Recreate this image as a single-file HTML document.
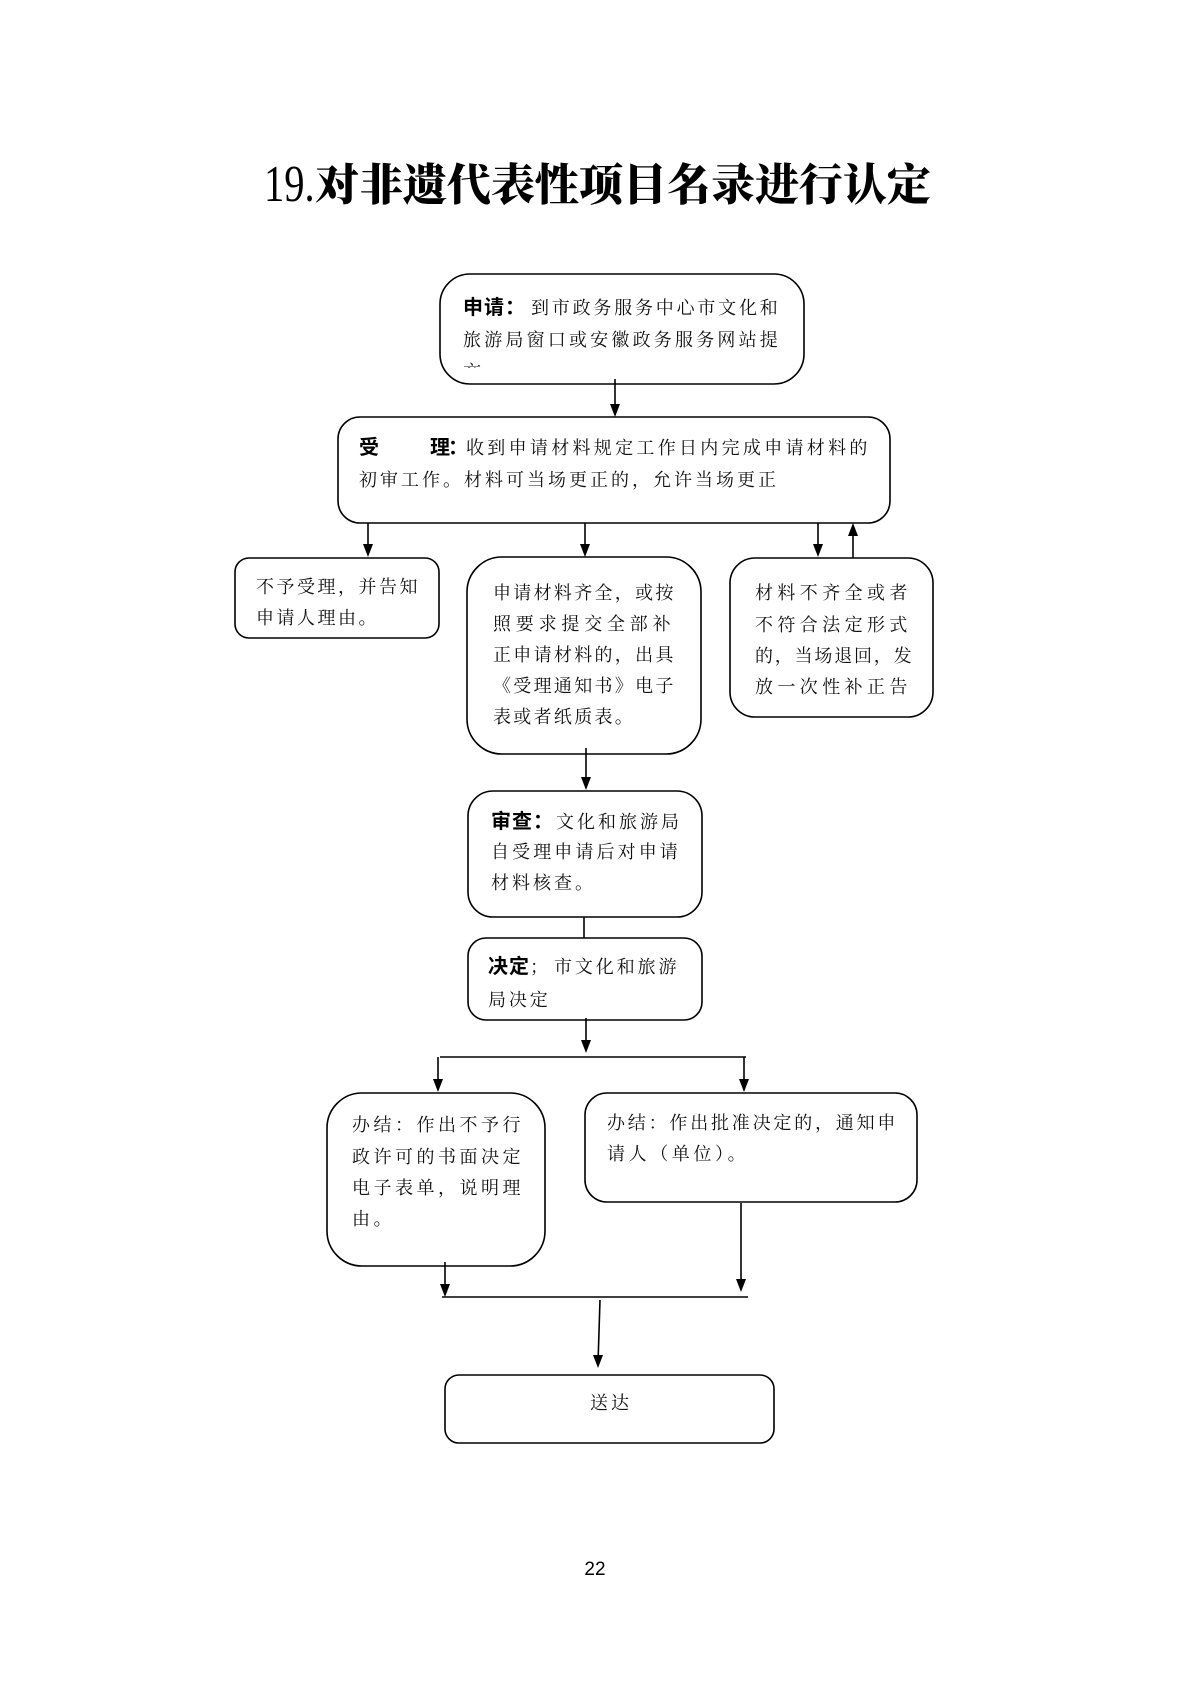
<!DOCTYPE html>
<html>
<head>
<meta charset="utf-8">
<style>
html,body{margin:0;padding:0;background:#fff;}
#page{position:relative;width:1190px;height:1683px;overflow:hidden;background:#fff;}
svg{position:absolute;left:0;top:0;}
.t{position:absolute;white-space:nowrap;font-family:"Liberation Serif","Noto Serif CJK SC",serif;font-size:18px;line-height:34px;height:34px;color:#111;}
.b{font-family:"Liberation Sans","Noto Sans CJK SC",sans-serif;font-weight:bold;font-size:20px;color:#000;}
.clip{position:absolute;overflow:hidden;}
</style>
</head>
<body>
<div id="page">
<svg width="1190" height="1683" viewBox="0 0 1190 1683">
<g fill="none" stroke="#000" stroke-width="1.6">
<rect x="440" y="274" width="364" height="110" rx="30" ry="30"/>
<rect x="338" y="417" width="552" height="106" rx="22" ry="22"/>
<rect x="235" y="558" width="204" height="80" rx="14" ry="14"/>
<rect x="467" y="557" width="234" height="197" rx="35" ry="35"/>
<rect x="730" y="558" width="203" height="159" rx="25" ry="25"/>
<rect x="468" y="791" width="234" height="126" rx="25" ry="25"/>
<rect x="468" y="938" width="234" height="82" rx="18" ry="18"/>
<rect x="327" y="1093" width="218" height="173" rx="35" ry="35"/>
<rect x="585" y="1093" width="332" height="109" rx="22" ry="22"/>
<rect x="445" y="1375" width="329" height="68" rx="14" ry="14"/>
</g>
<g stroke="#000" stroke-width="1.6" fill="none">
<line x1="615" y1="379" x2="615" y2="406"/>
<line x1="368" y1="523" x2="368" y2="546"/>
<line x1="585" y1="523" x2="585" y2="546"/>
<line x1="818" y1="523" x2="818" y2="546"/>
<line x1="853" y1="558" x2="853" y2="534"/>
<line x1="586" y1="748" x2="586" y2="779"/>
<line x1="584" y1="917" x2="584" y2="938"/>
<line x1="586" y1="1018" x2="586" y2="1042"/>
<line x1="440" y1="1057" x2="746" y2="1057"/>
<line x1="438" y1="1057" x2="438" y2="1081"/>
<line x1="744" y1="1057" x2="744" y2="1081"/>
<line x1="445" y1="1262" x2="445" y2="1286"/>
<line x1="741" y1="1203" x2="741" y2="1281"/>
<line x1="442" y1="1297" x2="748" y2="1297"/>
<line x1="600" y1="1300" x2="598.2" y2="1357"/>
</g>
<g fill="#000" stroke="none">
<polygon points="615,417 610,404 620,404"/>
<polygon points="368,557 363,544 373,544"/>
<polygon points="585,557 580,544 590,544"/>
<polygon points="818,557 813,544 823,544"/>
<polygon points="853,523 848,536 858,536"/>
<polygon points="586,790 581,777 591,777"/>
<polygon points="586,1053 581,1040 591,1040"/>
<polygon points="438,1092 433,1079 443,1079"/>
<polygon points="744,1092 739,1079 749,1079"/>
<polygon points="445,1297 440,1284 450,1284"/>
<polygon points="741,1292 736,1279 746,1279"/>
<polygon points="598,1368 593,1355 603,1355"/>
</g>
</svg>

<!-- Title -->
<div style="position:absolute;left:264px;top:159px;font-family:'Liberation Serif',serif;font-size:52px;line-height:52px;white-space:nowrap;transform:scaleX(0.78);transform-origin:0 0;color:#000;">19.</div>
<div style="position:absolute;left:315px;top:164px;font-family:'Liberation Serif','Noto Serif CJK SC',serif;font-weight:900;font-size:44px;line-height:44px;white-space:nowrap;color:#000;">对非遗代表性项目名录进行认定</div>

<!-- 申请 -->
<div class="t b" style="left:463px;top:291px;letter-spacing:1px;">申请：</div>
<div class="t" style="left:531px;top:291px;letter-spacing:2.8px;">到市政务服务中心市文化和</div>
<div class="t" style="left:463px;top:323px;letter-spacing:3.2px;">旅游局窗口或安徽政务服务网站提</div>
<div class="clip" style="left:460px;top:355px;width:40px;height:13px;"><div class="t" style="left:3px;top:0;letter-spacing:3px;">交</div></div>

<!-- 受理 -->
<div class="t b" style="left:359px;top:431px;">受</div>
<div class="t b" style="left:430px;top:431px;letter-spacing:-2px;">理：</div>
<div class="t" style="left:466px;top:431px;letter-spacing:3.3px;">收到申请材料规定工作日内完成申请材料的</div>
<div class="t" style="left:359px;top:463px;letter-spacing:3px;">初审工作。材料可当场更正的，允许当场更正</div>

<!-- left -->
<div class="t" style="left:256px;top:570px;letter-spacing:2.5px;">不予受理，并告知</div>
<div class="t" style="left:256px;top:601px;letter-spacing:2.5px;">申请人理由。</div>

<!-- middle -->
<div class="t" style="left:493px;top:576px;letter-spacing:2.3px;">申请材料齐全，或按</div>
<div class="t" style="left:493px;top:607px;letter-spacing:4.8px;">照要求提交全部补</div>
<div class="t" style="left:493px;top:638px;letter-spacing:2.3px;">正申请材料的，出具</div>
<div class="t" style="left:493px;top:669px;letter-spacing:2.3px;">《受理通知书》电子</div>
<div class="t" style="left:493px;top:700px;letter-spacing:2.3px;">表或者纸质表。</div>

<!-- right -->
<div class="t" style="left:755px;top:576px;letter-spacing:4.4px;">材料不齐全或者</div>
<div class="t" style="left:755px;top:608px;letter-spacing:4.4px;">不符合法定形式</div>
<div class="t" style="left:755px;top:639px;letter-spacing:1.8px;">的，当场退回，发</div>
<div class="t" style="left:755px;top:670px;letter-spacing:4.4px;">放一次性补正告</div>

<!-- 审查 -->
<div class="t b" style="left:491px;top:805px;letter-spacing:1px;">审查：</div>
<div class="t" style="left:556px;top:805px;letter-spacing:3px;">文化和旅游局</div>
<div class="t" style="left:491px;top:835px;letter-spacing:3.1px;">自受理申请后对申请</div>
<div class="t" style="left:491px;top:866px;letter-spacing:3px;">材料核查。</div>

<!-- 决定 -->
<div class="t b" style="left:488px;top:950px;letter-spacing:1px;">决定</div>
<div class="t" style="left:530px;top:950px;">；</div>
<div class="t" style="left:554px;top:950px;letter-spacing:2.9px;">市文化和旅游</div>
<div class="t" style="left:488px;top:983px;letter-spacing:2.9px;">局决定</div>

<!-- 办结 left -->
<div class="t" style="left:352px;top:1108px;letter-spacing:3.5px;">办结：作出不予行</div>
<div class="t" style="left:352px;top:1140px;letter-spacing:3.5px;">政许可的书面决定</div>
<div class="t" style="left:352px;top:1171px;letter-spacing:3.5px;">电子表单，说明理</div>
<div class="t" style="left:352px;top:1202px;letter-spacing:3.5px;">由。</div>

<!-- 办结 right -->
<div class="t" style="left:607px;top:1106px;letter-spacing:2.8px;">办结：作出批准决定的，通知申</div>
<div class="t" style="left:607px;top:1137px;letter-spacing:3.6px;">请人（单位）。</div>

<!-- 送达 -->
<div class="t" style="left:590px;top:1386px;letter-spacing:3px;">送达</div>

<!-- page number -->
<div style="position:absolute;left:545px;width:100px;text-align:center;top:1558px;font-family:'Liberation Sans',sans-serif;font-size:19px;line-height:24px;color:#000;">22</div>
</div>
</body>
</html>
